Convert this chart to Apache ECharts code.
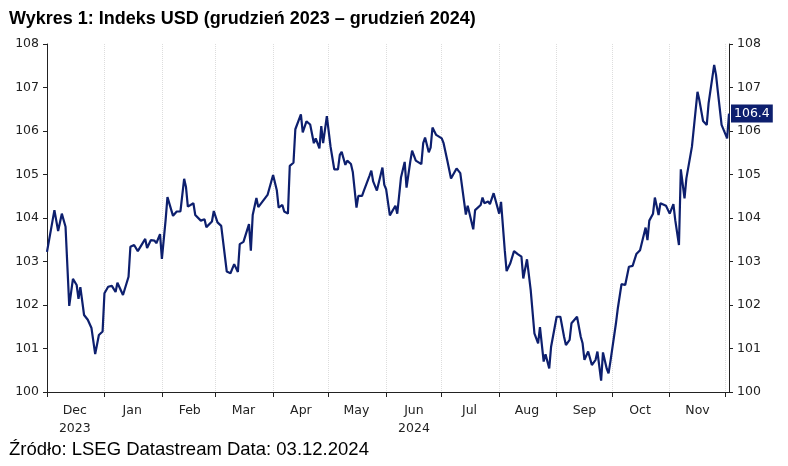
<!DOCTYPE html>
<html>
<head>
<meta charset="utf-8">
<script src="https://cdn.jsdelivr.net/npm/echarts@6/dist/echarts.min.js"></script>
<style>
  html, body { margin: 0; padding: 0; background: #fff; }
  #chart { width: 788px; height: 466px; }
</style>
</head>
<body>
<div id="chart"></div>
<script>
// days since 2023-12-01
const dayOffsets = [0,4,6,8,10,12,14,16,17,18,20,22,24,26,28,30,31,33,35,37,38,41,44,45,47,49,53,54,56,58,59,61,62,64,65,68,70,72,74,75,76,79,80,83,85,86,89,90,92,94,97,99,101,103,104,106,109,110,111,113,114,119,120,122,124,125,127,128,130,131,133,134,137,138,140,142,144,145,147,148,149,151,153,155,157,158,159,161,162,164,165,167,168,170,171,172,174,175,176,178,179,181,182,183,185,188,189,191,193,194,196,197,199,202,203,204,206,207,208,210,213,214,216,218,221,223,226,227,228,230,231,234,235,236,238,239,241,242,244,245,247,248,250,252,254,256,257,258,259,261,263,265,266,268,269,271,272,275,276,277,279,280,282,283,286,288,289,290,292,293,294,296,297,299,300,302,303,304,307,308,310,312,314,316,318,320,323,324,325,327,328,330,331,334,336,338,339,341,342,344,345,348,351,352,354,356,357,360,361,362,364,365,367,368];
const usdIndex = [103.22,104.18,103.7,104.1,103.8,101.98,102.6,102.46,102.14,102.41,101.77,101.66,101.47,100.87,101.31,101.39,102.27,102.42,102.44,102.3,102.51,102.23,102.65,103.34,103.38,103.24,103.52,103.31,103.49,103.48,103.42,103.63,103.06,103.95,104.48,104.05,104.15,104.15,104.9,104.71,104.26,104.34,104.07,103.94,103.97,103.79,103.92,104.16,103.9,103.82,102.77,102.73,102.94,102.76,103.4,103.45,103.86,103.25,104.07,104.46,104.25,104.53,104.49,104.99,104.64,104.24,104.3,104.15,104.1,105.2,105.27,106.04,106.38,105.97,106.22,106.15,105.72,105.83,105.6,106.11,105.72,106.34,105.64,105.12,105.12,105.45,105.52,105.22,105.32,105.24,105.06,104.24,104.51,104.51,104.63,104.64,104.97,105.09,104.84,104.63,104.66,105.16,104.76,104.66,104.06,104.28,104.1,104.93,105.29,104.7,105.29,105.55,105.32,105.24,105.72,105.85,105.51,105.62,106.08,105.91,105.83,105.72,105.32,104.91,105.14,105.03,104.08,104.28,104.24,103.74,104.18,104.3,104.47,104.34,104.38,104.32,104.57,104.53,104.1,104.37,103.26,102.78,102.96,103.24,103.17,103.11,102.61,102.6,103.05,102.34,101.35,101.12,101.49,100.7,100.87,100.54,101.04,101.73,101.69,101.73,101.27,101.08,101.2,101.58,101.73,101.27,101.12,100.74,100.93,100.89,100.62,100.74,100.93,100.26,100.91,100.54,100.43,100.7,101.58,101.92,102.48,102.46,102.88,102.9,103.17,103.26,103.78,103.49,103.94,104.1,104.47,104.07,104.34,104.28,104.1,104.32,103.95,103.38,105.12,104.45,104.91,105.64,106.9,106.71,106.23,106.14,106.64,107.52,107.29,106.9,106.14,106.1,105.83,106.4];
const monthNames = ['Jan','Feb','Mar','Apr','May','Jun','Jul','Aug','Sep','Oct','Nov','Dec'];
const yearLabels = { '2023-12': '2023', '2024-06': '2024' };

const start = Date.UTC(2023, 11, 1);
const days = [];
for (let i = 0; i <= 368; i++) days.push(new Date(start + i * 86400000));
const dayKeys = days.map(d => d.toISOString().slice(0, 10));
const isMonthStart = i => days[i].getUTCDate() === 1 && i < 368;
const isMidMonth = i => days[i].getUTCDate() === 16 && i < 360;

const chart = echarts.init(document.getElementById('chart'));
const axisText = { color: '#222', fontSize: 12.5, fontFamily: 'DejaVu Sans' };

chart.setOption({
  animation: false,
  title: [{
    text: 'Wykres 1: Indeks USD (grudzień 2023 – grudzień 2024)',
    left: 4, top: 5,
    textStyle: { fontFamily: 'Liberation Sans', fontWeight: 'bold', fontSize: 18, color: '#000' }
  }, {
    text: 'Źródło: LSEG Datastream Data: 03.12.2024',
    left: 4, top: 435,
    textStyle: { fontFamily: 'Liberation Sans', fontWeight: 'normal', fontSize: 18.5, color: '#000' }
  }],
  grid: { left: 47, right: 59, top: 44, bottom: 74 },
  xAxis: {
    type: 'category',
    data: dayKeys,
    boundaryGap: false,
    axisLine: { lineStyle: { color: '#222' } },
    axisTick: { interval: i => isMonthStart(i), length: 5, lineStyle: { color: '#222' } },
    splitLine: { show: true, interval: i => isMonthStart(i) && i > 0, lineStyle: { color: '#ddd', type: 'dotted' } },
    axisLabel: {
      ...axisText,
      interval: i => isMidMonth(i),
      margin: 10,
      lineHeight: 18,
      formatter: (v) => {
        const name = monthNames[parseInt(v.slice(5, 7)) - 1];
        const y = yearLabels[v.slice(0, 7)];
        return y ? name + '\n' + y : name;
      }
    }
  },
  yAxis: [{
    type: 'value', min: 100, max: 108, interval: 1, position: 'left',
    axisLine: { show: true, lineStyle: { color: '#222' } },
    axisTick: { show: true, length: 4, lineStyle: { color: '#222' } },
    splitLine: { show: false },
    axisLabel: { ...axisText, margin: 8 }
  }, {
    type: 'value', min: 100, max: 108, interval: 1, position: 'right',
    axisLine: { show: true, lineStyle: { color: '#222' } },
    axisTick: { show: true, length: 4, lineStyle: { color: '#222' } },
    splitLine: { show: false },
    axisLabel: { ...axisText, margin: 8 }
  }],
  series: [{
    type: 'line',
    data: dayOffsets.map((d, i) => [d, usdIndex[i]]),
    showSymbol: false,
    lineStyle: { color: '#0d1f6e', width: 2.2 },
    itemStyle: { color: '#0d1f6e' },
    endLabel: {
      show: true,
      formatter: p => p.value[1].toFixed(1),
      backgroundColor: '#0d1f6e',
      color: '#fff',
      fontFamily: 'DejaVu Sans',
      fontSize: 12.5,
      padding: [3, 3, 2, 3],
      distance: 2
    }
  }]
});
</script>
</body>
</html>
